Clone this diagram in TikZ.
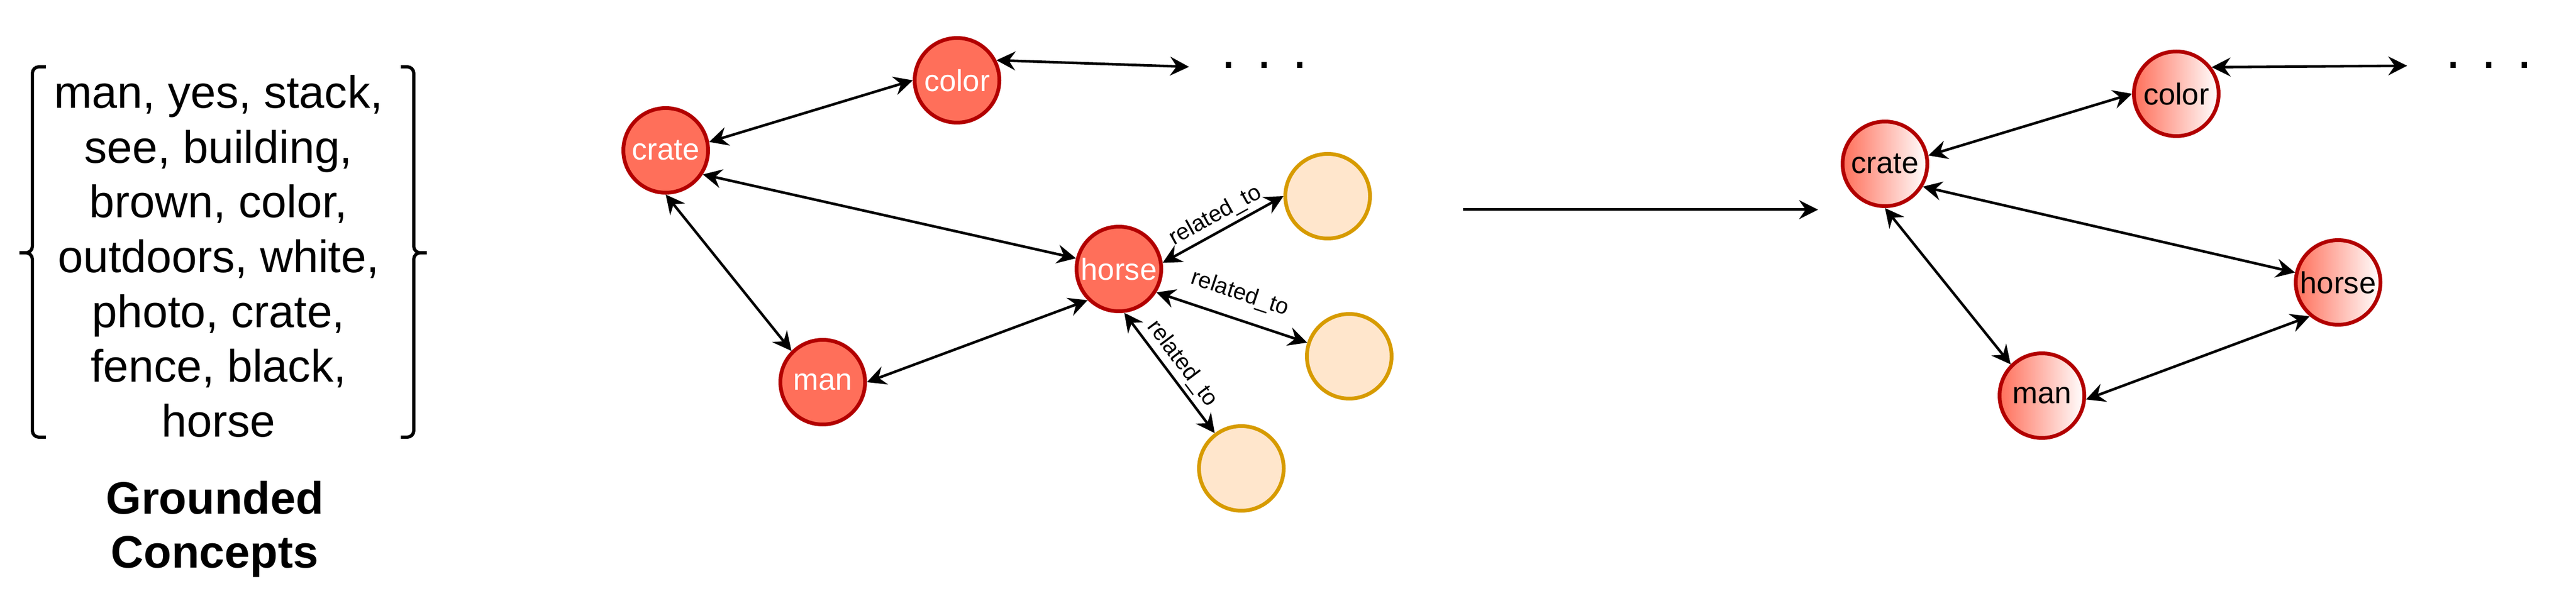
\documentclass[tikz,border=0pt]{standalone}
\usepackage{fontspec}
\setmainfont{Liberation Sans}
\usetikzlibrary{arrows.meta,positioning}

\definecolor{conceptfill}{HTML}{FF6F5A}
\definecolor{conceptline}{HTML}{B20000}
\definecolor{neighbourfill}{HTML}{FFE6CC}
\definecolor{neighbourline}{HTML}{D79B00}

\begin{document}
\begin{tikzpicture}[x=1cm, y=1cm, >={Stealth[length=3.5mm, width=3.5mm, inset=1.2mm]},
  concept/.style={circle, minimum size=1.57cm, inner sep=0pt, line width=0.07cm,
    draw=conceptline, fill=conceptfill, text=white, font=\fontsize{16}{19}\selectfont},
  kept concept/.style={concept, left color=conceptfill, right color=white, text=black},
  neighbour/.style={circle, minimum size=1.57cm, inner sep=0pt, line width=0.07cm,
    draw=neighbourline, fill=neighbourfill},
  link/.style={<->, line width=0.048cm},
  rel label/.style={sloped, midway, inner sep=1pt, font=\fontsize{12}{14}\selectfont},
  bracket/.style={line width=0.06cm, rounded corners=0.12cm},
  ellipsis dots/.style={anchor=base, inner sep=0pt, font=\fontsize{29}{34}\selectfont},
  list text/.style={align=center, inner sep=0pt, font=\fontsize{24}{28.9}\selectfont}]

\useasboundingbox (0,0) rectangle (47.75,-11.15);

% grounded concepts
\node [list text, anchor=north] (concept-list) at (4.05,-1.39)
  {man, yes, stack,\\ see, building,\\ brown, color,\\ outdoors, white,\\
   photo, crate,\\ fence, black,\\ horse};
\node [list text, anchor=north, font=\fontsize{24}{28.5}\selectfont\bfseries]
  (concept-title) at (3.98,-8.92) {Grounded\\ Concepts};

% brackets
\draw [bracket] (0.85,-1.24) -- (0.60,-1.24) -- (0.60,-4.69) -- (0.36,-4.69);
\draw [bracket] (0.36,-4.69) -- (0.60,-4.69) -- (0.60,-8.11) -- (0.85,-8.11);
\draw [bracket] (7.43,-1.24) -- (7.67,-1.24) -- (7.67,-4.69) -- (7.91,-4.69);
\draw [bracket] (7.91,-4.69) -- (7.67,-4.69) -- (7.67,-8.11) -- (7.43,-8.11);

% concept graph
\foreach \n/\x/\y in {crate/12.34/-2.79, color/17.74/-1.49, horse/20.74/-4.99, man/15.25/-7.09}
  \node [concept] (\n) at (\x,\y) {\n};

% neighbours of horse
\foreach \m/\x/\y in {1/24.61/-3.64, 2/25.01/-6.61, 3/23.01/-8.69}
  \node [neighbour] (neighbour-\m) at (\x,\y) {};

\node [ellipsis dots] (more) at (23.44,-1.27) {. . .};
\coordinate (more-end) at (22.04,-1.24);

% links of the concept graph
\foreach \a/\p/\b/\q in {crate/11/color/180, crate/-33/horse/166, crate/-90/man/135, man/0/horse/-135}
  \draw [link] (\a.\p) -- (\b.\q);
\draw [link] (color.27) -- (more-end);

% related_to links
\foreach \m/\p/\q/\s in {1/8/180/1pt, 2/-32/162/6pt, 3/-83/127/1pt}
  \draw [link] (horse.\p) -- (neighbour-\m.\q)
    node [rel label, above=\s] (rel-\m) {related\_to};

% step between the graphs
\coordinate (step-from) at (27.12,-3.89);
\coordinate (step-to) at (33.70,-3.89);
\draw [->, line width=0.05cm] (step-from) -- (step-to);

% pruned graph
\foreach \n/\x/\y in {crate/12.34/-2.79, color/17.74/-1.49, horse/20.74/-4.99, man/15.25/-7.09}
  \node [kept concept] (\n-2) at (\x+22.60,\y-0.25) {\n};

\node [ellipsis dots] (more-2) at (46.14,-1.27) {. . .};
\coordinate (more-2-end) at (44.62,-1.22);

\foreach \a/\p/\b/\q in {crate/11/color/180, crate/-31/horse/167, crate/-90/man/135, man/-5/horse/-130}
  \draw [link] (\a-2.\p) -- (\b-2.\q);
\draw [link] (color-2.37) -- (more-2-end);

\end{tikzpicture}
\end{document}
